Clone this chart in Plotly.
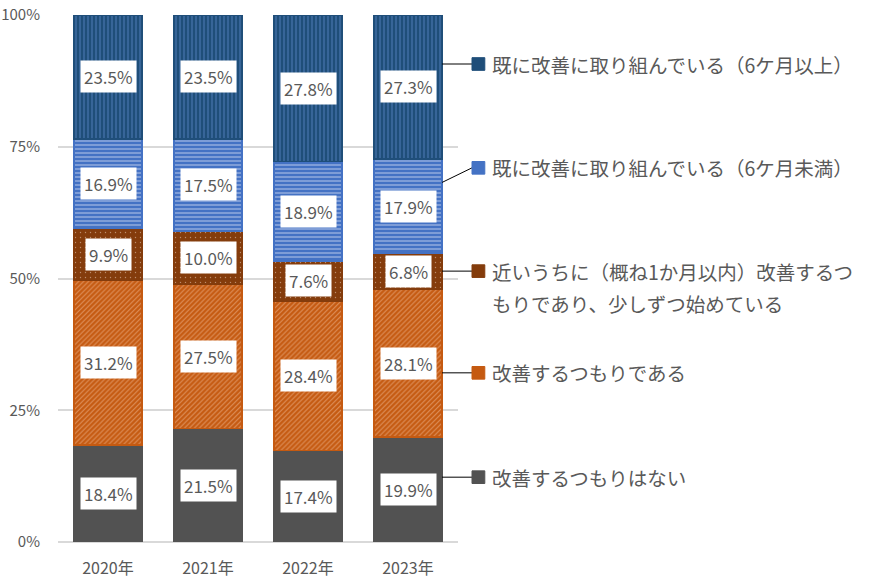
import plotly.graph_objects as go

# data (percent), bottom segment first
years = ["2020年", "2021年", "2022年", "2023年"]
series_names = [
    "改善するつもりはない",
    "改善するつもりである",
    "近いうちに（概ね1か月以内）改善するつ",
    "既に改善に取り組んでいる（6ケ月未満）",
    "既に改善に取り組んでいる（6ケ月以上）",
]
not_planned = [18.4, 21.5, 17.4, 19.9]
planned = [31.2, 27.5, 28.4, 28.1]
soon = [9.9, 10.0, 7.6, 6.8]
under_6m = [16.9, 17.5, 18.9, 17.9]
over_6m = [23.5, 23.5, 27.8, 27.3]
series_values = [not_planned, planned, soon, under_6m, over_6m]
soon_second_line = "もりであり、少しずつ始めている"
y_ticks = [0, 25, 50, 75, 100]

# styling
colors = ["#525252", "#C55A11", "#843C0C", "#4472C4", "#1F4E79"]
patterns = [
    dict(shape=""),
    dict(shape="/", fgcolor="#F8CBAD", size=3.5, solidity=0.3),
    dict(shape=".", fgcolor="#F2DCCB", size=5, solidity=0.06),
    dict(shape="-", fgcolor="#D6E0F3", size=4, solidity=0.4),
    dict(shape="|", fgcolor="#5A87C6", size=4, solidity=0.4),
]
text_color = "#595959"
font_family = "Noto Sans CJK JP"
bargap = 0.32
# legend text rows (paper y), bottom series first
legend_rows = [0.123, 0.321, 0.514, 0.710, 0.907]
soon_second_row = 0.452

fig = go.Figure()
for name, vals, col, pat in zip(series_names, series_values, colors, patterns):
    fig.add_trace(go.Bar(
        x=years, y=vals, name=name,
        marker=dict(color=col, pattern=pat, line=dict(color=col, width=1.5)),
        showlegend=False,
    ))

# normalised cumulative positions (100% stacked)
totals = [sum(s[i] for s in series_values) for i in range(len(years))]
annotations = []
shapes = []
for k, vals in enumerate(series_values):
    for i, yr in enumerate(years):
        below = sum(series_values[j][i] for j in range(k))
        mid = (below + vals[i] / 2) / totals[i] * 100
        annotations.append(dict(
            x=yr, y=mid, xref="x", yref="y", text=f"{vals[i]:.1f}%",
            showarrow=False, bgcolor="white", borderpad=3,
            font=dict(family=font_family, size=17, color=text_color),
        ))

# custom legend with leader lines from the last bar
last = len(years) - 1
bar_edge = (last + 0.5 + (1 - bargap) / 2) / len(years)
marker_x0 = 1.035
marker_w = 0.032
marker_h = 0.024
for k, vals in enumerate(series_values):
    lo = sum(series_values[j][last] for j in range(k)) / totals[last]
    hi = lo + vals[last] / totals[last]
    pad = min(0.05, (hi - lo) / 4)
    row = legend_rows[k]
    start = min(max(row, lo + pad), hi - pad)
    shapes.append(dict(type="line", xref="paper", yref="paper",
                       x0=bar_edge, y0=start, x1=marker_x0, y1=row,
                       line=dict(color="black", width=1)))
    shapes.append(dict(type="rect", xref="paper", yref="paper",
                       x0=marker_x0, x1=marker_x0 + marker_w,
                       y0=row - marker_h / 2, y1=row + marker_h / 2,
                       fillcolor=colors[k], line=dict(color=colors[k], width=1)))
    annotations.append(dict(
        x=1.08, y=row, xref="paper", yref="paper", text=series_names[k],
        showarrow=False, xanchor="left", yanchor="middle",
        font=dict(family=font_family, size=19.5, color=text_color),
    ))
annotations.append(dict(
    x=1.08, y=soon_second_row, xref="paper", yref="paper", text=soon_second_line,
    showarrow=False, xanchor="left", yanchor="middle",
    font=dict(family=font_family, size=19.5, color=text_color),
))

fig.update_layout(
    width=880, height=586,
    margin=dict(l=58, r=422, t=15, b=44),
    barmode="stack", barnorm="percent", bargap=bargap,
    plot_bgcolor="white", paper_bgcolor="white",
    font=dict(family=font_family, color=text_color),
    annotations=annotations, shapes=shapes,
    xaxis=dict(range=[-0.5, 3.5], showgrid=False, showline=False,
               automargin=False,
               tickfont=dict(size=16, color=text_color), ticklabelstandoff=15),
    yaxis=dict(range=[0, 100], tickvals=y_ticks,
               ticktext=[f"{t}%" for t in y_ticks],
               automargin=False,
               showgrid=True, gridcolor="#D9D9D9", gridwidth=1.5,
               zeroline=True, zerolinecolor="#D9D9D9", zerolinewidth=1.5,
               tickfont=dict(size=15, color=text_color), ticklabelstandoff=17),
)

# drop the browser's default body margin so the 880x586 figure fills the window
fig.write_html("out.html",
               config={"displayModeBar": False},
               post_script="document.body.style.margin='0';"
                           "document.body.style.overflow='hidden';")
